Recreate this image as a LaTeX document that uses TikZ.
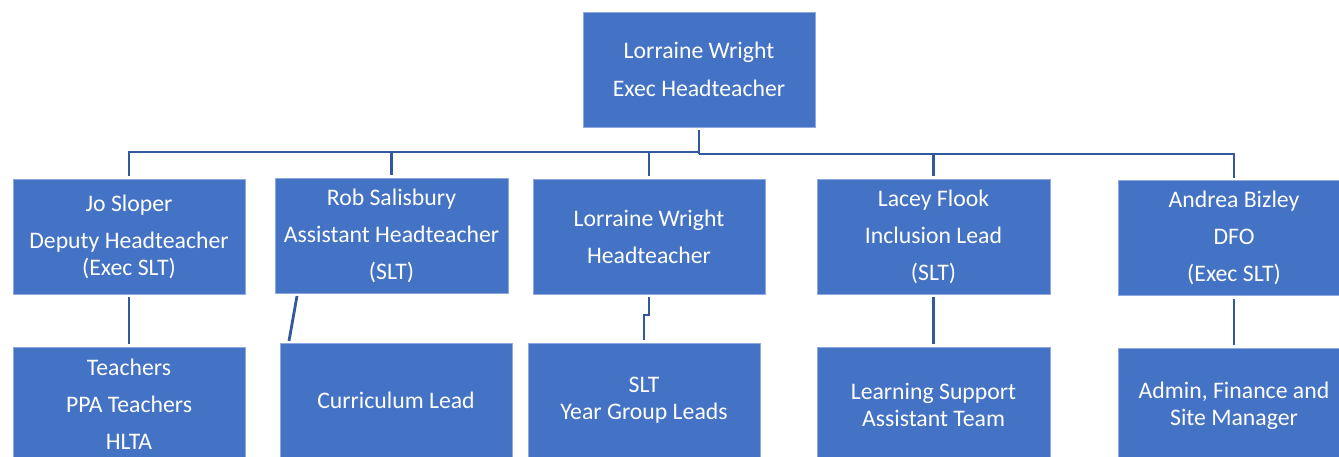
\documentclass[tikz,border=0pt]{standalone}
\usepackage{fontspec}
\setmainfont{Carlito}
\definecolor{boxblue}{HTML}{4472C4}
\definecolor{boxedge}{HTML}{8EA9DB}
\definecolor{linkblue}{HTML}{3259A0}
\begin{document}
\begin{tikzpicture}[x=0.75pt,y=-0.75pt,
  orgbox/.style={rectangle, fill=boxblue, draw=boxedge, line width=0.5pt,
    minimum width=174pt, minimum height=86.25pt, inner sep=0pt, outer sep=0pt,
    text=white, align=center, font=\fontsize{17.8}{27.75}\selectfont},
  conn/.style={draw=linkblue, line width=2.1pt},
  gapend/.style={shorten >=2.25pt},
  gapboth/.style={shorten >=2.25pt, shorten <=2.25pt}]
\path[use as bounding box, clip] (0,0) rectangle (1339,457);

\node[orgbox] (top) at (699,69.5) {Lorraine Wright\\[1pt]Exec Headteacher};

\node[orgbox] (b1) at (129,236.5) {Jo Sloper\\Deputy Headteacher\\[-7.5pt](Exec SLT)};
\node[orgbox, minimum width=174.75pt] (b2) at (391.5,235.5) {Rob Salisbury\\Assistant Headteacher\\(SLT)};
\node[orgbox] (b3) at (649,236.5) {Lorraine Wright\\Headteacher};
\node[orgbox, minimum width=174.75pt] (b4) at (933.5,236.5) {Lacey Flook\\Inclusion Lead\\(SLT)};
\node[orgbox] (b5) at (1234,238) {Andrea Bizley\\DFO\\(Exec SLT)};

\node[orgbox] (b6) at (129,404.5) {Teachers\\PPA Teachers\\HLTA};
\node[orgbox] (b7) at (396,400.5) {Curriculum Lead};
\node[orgbox] (b8) at (644,400.5) {SLT\\[-7.5pt]Year Group Leads};
\node[orgbox, minimum width=174.75pt] (b9) at (933.5,404.5) {Learning Support\\[-7.5pt]Assistant Team};
\node[orgbox] (b10) at (1234,405.5) {Admin, Finance and\\[-7.5pt]Site Manager};

\coordinate (busL) at (699,152);
\coordinate (busR) at (699,154);

\draw[conn, shorten <=2.25pt] (top.south) -- (busR);
\draw[conn, gapend] (busL) -| (b1.north);
\draw[conn, gapend] (busL) -| (b2.north);
\draw[conn, gapend] (busL) -| (b3.north);
\draw[conn, gapend] (busR) -| (b4.north);
\draw[conn, gapend] (busR) -| (b5.north);

\draw[conn, gapboth] (b1.south) -- (b6.north);
\draw[conn] ([xshift=16.5pt,yshift=-2.25pt]b2.south west) -- ([xshift=6.75pt,yshift=1.5pt]b7.north west);
\draw[conn, gapboth] (b3.south) -- ++(0,21) -| (b8.north);
\draw[conn, gapboth] (b4.south) -- (b9.north);
\draw[conn, gapboth] (b5.south) -- (b10.north);
\end{tikzpicture}
\end{document}
